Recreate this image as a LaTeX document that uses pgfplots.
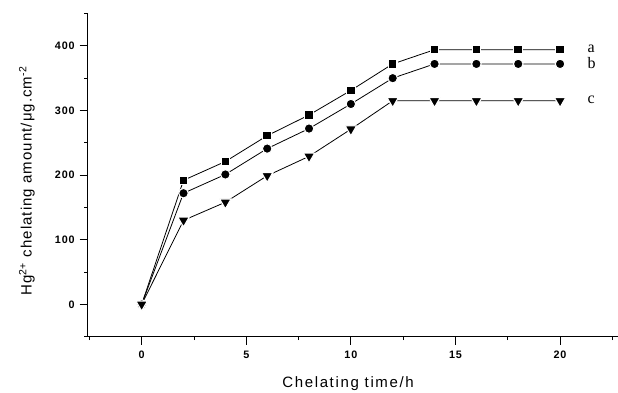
\documentclass[border=0pt]{standalone}
\usepackage{pgfplots}
\pgfplotsset{compat=1.18}
\usepackage{fontspec}
\setmainfont{Liberation Sans}
\newfontfamily\seriffont{Liberation Serif}
\newfontfamily\ticksf[LetterSpace=8]{Liberation Sans}
\newfontfamily\labsf[LetterSpace=11]{Liberation Sans}
\newfontfamily\ylabsf[LetterSpace=7]{Liberation Sans}
\begin{document}
\begin{tikzpicture}[x=1pt,y=1pt]
\useasboundingbox (0,0) rectangle (618,392);
\begin{axis}[
  at={(87.7pt,55.3pt)}, anchor=south west,
  scale only axis, width=530.3pt, height=323.2pt,
  xmin=-2.58, xmax=22.77, ymin=-50, ymax=450,
  axis x line*=bottom, axis y line*=left,
  axis line style={-, line width=0.9pt},
  xtick={0,5,...,20}, ytick={0,100,...,400},
  minor xtick={-2.5,2.5,7.5,12.5,17.5,22.5},
  minor ytick={-50,50,150,250,350,450},
  tick align=outside,
  major tick length=8pt, minor tick length=3.5pt,
  tick style={black, line width=0.9pt},
  /pgf/number format/assume math mode=true,
  ticklabel style={font=\ticksf\fontsize{10.8}{12}\selectfont\bfseries},
  xticklabel shift=3pt, yticklabel shift=1.5pt,
  xlabel={Chelating time/h},
  xlabel style={font=\labsf\fontsize{15}{17}\selectfont, at={(axis description cs:0.491,-0.145)}, anchor=center},
  ylabel={Hg\textsuperscript{2+} chelating amount/μg.cm\textsuperscript{-2}},
  ylabel style={font=\ylabsf\fontsize{15}{17}\selectfont, at={(axis description cs:-0.1145,0.482)}, anchor=center},
  clip=false,
  every axis plot/.append style={black, line width=0.8pt},
]
\addplot[mark=square*, mark size=4.3pt, mark options={fill=black, draw=white, line width=1.1pt}]
  coordinates {(0,0)(2,192)(4,221)(6,261)(8,293)(10,331)(12,372)(14,394)(16,394)(18,394)(20,394)};
\addplot[mark=*, mark size=4.8pt, mark options={fill=black, draw=white, line width=1.1pt}]
  coordinates {(0,0)(2,172)(4,201)(6,241)(8,272)(10,310)(12,350)(14,372)(16,372)(18,372)(20,372)};
\addplot[mark=triangle*, mark size=6.6pt, mark options={fill=black, draw=white, line width=1.1pt, rotate=180}]
  coordinates {(0,0)(2,130)(4,158)(6,199)(8,229)(10,271)(12,315)(14,315)(16,315)(18,315)(20,315)};
\node[anchor=west, font=\seriffont\fontsize{16}{18}\selectfont] at (axis cs:21.15,396) {a};
\node[anchor=west, font=\seriffont\fontsize{16}{18}\selectfont] at (axis cs:21.15,374) {b};
\node[anchor=west, font=\seriffont\fontsize{16}{18}\selectfont] at (axis cs:21.15,317) {c};
\end{axis}
\end{tikzpicture}
\end{document}
